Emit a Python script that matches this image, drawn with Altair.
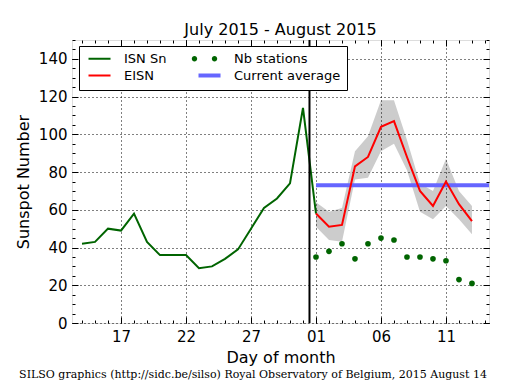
import altair as alt
import pandas as pd

# Day index: July d -> d, August d -> 31 + d
isn_days = list(range(14, 33))
isn_values = [42, 43, 50, 49, 58, 43, 36, 36, 36, 29, 30, 34, 39, 50, 61, 66, 74, 114, 58]
eisn_days = list(range(32, 45))
eisn_values = [58, 51, 52, 83, 88, 104, 107, 88, 70, 62, 75, 63, 54]
eisn_upper = [64, 59, 61, 91, 99, 118, 118, 97, 74, 70, 87, 70, 62]
eisn_lower = [51, 44, 43, 76, 77, 91, 95, 81, 59, 55, 62, 55, 47]
station_counts = [35, 38, 42, 34, 42, 45, 44, 35, 35, 34, 33, 23, 21]
current_average = 73
average_days = [32, 45.31]
separator_day = [31.5]
x_domain = [13.23, 45.31]
y_domain = [0, 150]
x_major = [17, 22, 27, 32, 37, 42]
x_minor = list(range(14, 46))
y_major = list(range(0, 151, 20))
y_minor = list(range(0, 151, 5))
series_names = ["ISN Sn", "EISN", "Nb stations", "Current average"]
series_colors = ["#006400", "#ff0000", "#006400", "#6666ff"]
title_text = "July 2015 - August 2015"
footer_text = "SILSO graphics (http://sidc.be/silso) Royal Observatory of Belgium, 2015 August 14"

W, H = 417, 283
FONT = "DejaVu Sans"

lines_df = pd.DataFrame(
    {"t": isn_days + eisn_days, "v": isn_values + eisn_values,
     "series": ["ISN Sn"] * len(isn_days) + ["EISN"] * len(eisn_days)}
)
avg_df = pd.DataFrame({"t": average_days, "v": [current_average] * 2,
                       "series": ["Current average"] * 2})
band_df = pd.DataFrame({"t": eisn_days, "lo": eisn_lower, "hi": eisn_upper})
st_df = pd.DataFrame({"t": eisn_days, "v": station_counts,
                      "series": ["Nb stations"] * len(eisn_days)})
sep_df = pd.DataFrame({"t": separator_day})
foot_df = pd.DataFrame({"txt": [footer_text]})

xs = alt.Scale(domain=x_domain, nice=False, zero=False)
ys = alt.Scale(domain=y_domain, nice=False, zero=False)

line_path = "M -0.5 0 L 3.17 0"
dots_path = ("M -1.62 0 A 0.45 0.45 0 1 0 -0.72 0 A 0.45 0.45 0 1 0 -1.62 0 Z "
             "M 1.72 0 A 0.45 0.45 0 1 0 2.62 0 A 0.45 0.45 0 1 0 1.72 0 Z")

legend = alt.Legend(
    title=None, orient="none", legendX=7, legendY=6, columns=2,
    columnPadding=23, rowPadding=1, padding=6, strokeColor="black",
    fillColor="white", cornerRadius=0, symbolSize=144, zindex=2,
    labelFont=FONT, labelFontSize=13, labelColor="black", labelOffset=26,
    symbolType={"expr": f"datum.value === 'Nb stations' ? '{dots_path}' : '{line_path}'"},
    symbolStrokeColor={"expr": "datum.value === 'EISN' ? '#ff0000' : (datum.value === 'Current average' ? '#6666ff' : '#006400')"},
    symbolFillColor={"expr": "datum.value === 'Nb stations' ? '#006400' : 'transparent'"},
    symbolStrokeWidth={"expr": "datum.value === 'Nb stations' ? 0 : (datum.value === 'Current average' ? 4 : 2)"},
    symbolOpacity=1,
)
color = alt.Color("series:N", scale=alt.Scale(domain=series_names, range=series_colors), legend=legend)

label_expr = ("datum.value > 31 ? ((datum.value - 31) < 10 ? '0' + (datum.value - 31) : '' + (datum.value - 31)) : '' + datum.value")

main_x = alt.Axis(values=x_major, labelExpr=label_expr, title="Day of month", grid=True,
                  gridDash=[1, 3], gridColor="black", gridWidth=1, ticks=False, tickSize=0,
                  domain=False, labelFont=FONT, labelFontSize=15, labelColor="black",
                  labelPadding=6, titleFont=FONT, titleFontSize=16, titleFontWeight="normal",
                  titleColor="black", titlePadding=5)
main_y = alt.Axis(values=y_major, title="Sunspot Number", grid=True,
                  gridDash=[1, 3], gridColor="black", gridWidth=1, ticks=False, tickSize=0,
                  domain=False, labelFont=FONT, labelFontSize=15, labelColor="black",
                  labelPadding=5, titleFont=FONT, titleFontSize=16, titleFontWeight="normal",
                  titleColor="black", titlePadding=7)

band = alt.Chart(band_df).mark_area(color="black", opacity=0.2).encode(
    x=alt.X("t:Q", scale=xs, axis=main_x),
    y=alt.Y("lo:Q", scale=ys, axis=main_y),
    y2="hi:Q",
)
avg = alt.Chart(avg_df).mark_line(strokeWidth=4, opacity=1).encode(
    x=alt.X("t:Q", scale=xs, axis=None), y=alt.Y("v:Q", scale=ys, axis=None), color=color)
lines = alt.Chart(lines_df).mark_line(strokeWidth=2).encode(
    x=alt.X("t:Q", scale=xs, axis=None), y=alt.Y("v:Q", scale=ys, axis=None), color=color)
pts = alt.Chart(st_df).mark_point(filled=True, size=32, opacity=1).encode(
    x=alt.X("t:Q", scale=xs, axis=None), y=alt.Y("v:Q", scale=ys, axis=None), color=color)
sep = alt.Chart(sep_df).mark_rule(color="black", strokeWidth=2).encode(
    x=alt.X("t:Q", scale=xs, axis=None))


def tick_layer(xorient, yorient, xvals, yvals, size):
    common = dict(labels=False, domain=False, grid=False, tickSize=size,
                  tickColor="black", tickWidth=1, title=None)
    return alt.Chart(st_df).mark_point(opacity=0).encode(
        x=alt.X("t:Q", scale=xs, axis=alt.Axis(orient=xorient, offset=-H, values=xvals, **common)),
        y=alt.Y("v:Q", scale=ys, axis=alt.Axis(orient=yorient, offset=-W, values=yvals, **common)),
    )


ticks = [
    tick_layer("top", "right", x_major, y_major, 6),
    tick_layer("top", "right", x_minor, y_minor, 3),
    tick_layer("bottom", "left", x_major, y_major, 6),
    tick_layer("bottom", "left", x_minor, y_minor, 3),
]

footer = alt.Chart(foot_df).mark_text(font="DejaVu Serif", fontSize=11, align="center",
                                      baseline="middle", color="black").encode(
    text="txt:N", x=alt.value(181), y=alt.value(335))

chart = alt.layer(band, avg, lines, pts, sep, *ticks, footer).resolve_axis(
    x="independent", y="independent"
).properties(
    width=W, height=H,
    title=alt.Title(title_text, font=FONT, fontSize=16, fontWeight="normal", color="black",
                    offset=1, anchor="middle"),
    autosize=alt.AutoSizeParams(type="none"),
    padding={"left": 64, "top": 32, "right": 10, "bottom": 59},
).configure_view(stroke="black", strokeWidth=1.5).configure_legend(
    strokeColor="black", strokeWidth=1, fillColor="white"
).configure(background="white")

chart.save("out.html", embed_options={"renderer": "svg", "actions": False})
